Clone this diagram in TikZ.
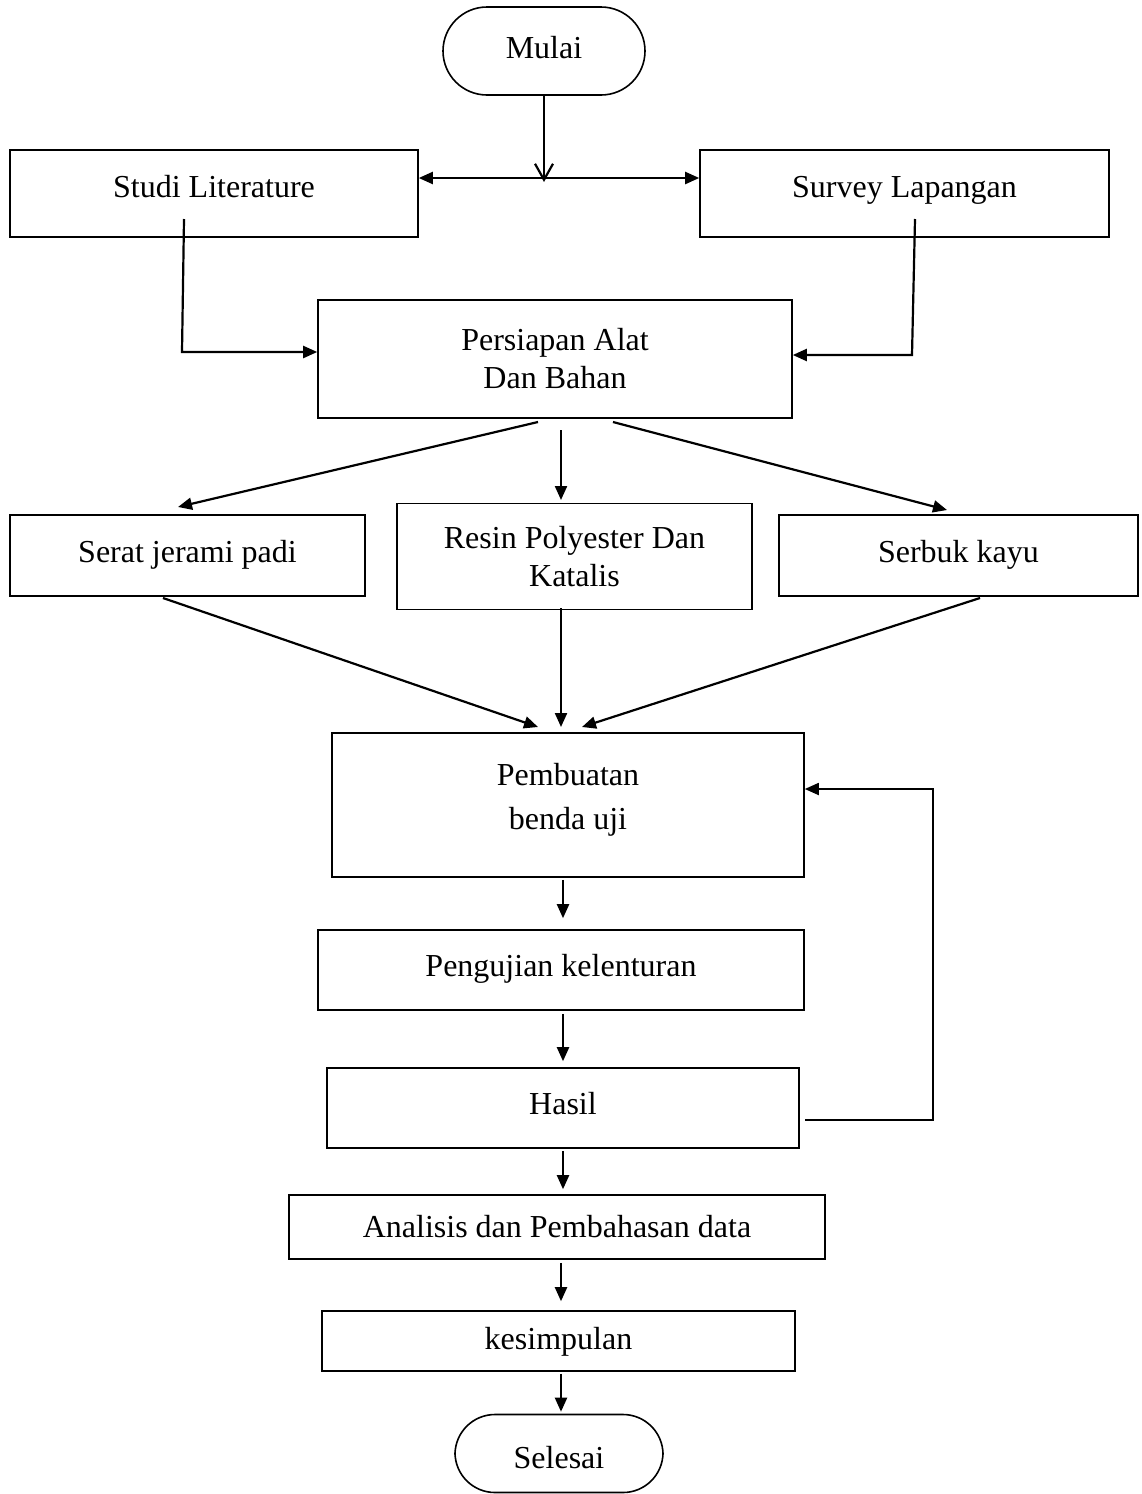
\documentclass[tikz,border=0pt]{standalone}
\usepackage{fontspec}
\setmainfont{Liberation Serif}
\usetikzlibrary{arrows.meta,calc}
\begin{document}
\begin{tikzpicture}[x=0.5pt,y=-0.5pt,
  box/.style={draw, line width=0.8pt, inner sep=0pt, align=center,
    font=\fontsize{16}{19}\selectfont},
  one/.style={text height=0.7em+#1, text depth=0.35em},
  one/.default=0pt,
  term/.style={box, rounded corners=20pt},
  arr/.style={line width=1.1pt, -{Triangle[length=7pt,width=6pt]}},
  line/.style={line width=1.1pt}]
\useasboundingbox (0,0) rectangle (1141,1494);
% nodes
\node[term, one=4pt, minimum width=101pt, minimum height=44pt, rounded corners=22pt] (mulai) at (544,51) {Mulai};
\node[box, one, minimum width=204pt, minimum height=43.5pt] (studi) at (214,193.5) {Studi Literature};
\node[box, one, minimum width=204.5pt, minimum height=43.5pt] (survey) at (904.5,193.5) {Survey Lapangan};
\node[box, minimum width=237pt, minimum height=59pt] (persiapan) at (555,359) {Persiapan Alat\\Dan Bahan};
\node[box, one=3pt, minimum width=177.5pt, minimum height=40.5pt] (serat) at (187.5,555.5) {Serat jerami padi};
\node[box, minimum width=177.5pt, minimum height=53pt] (resin) at (574.5,556.5) {Resin Polyester Dan\\Katalis};
\node[box, one=3pt, minimum width=179.5pt, minimum height=40.5pt] (serbuk) at (958.5,555.5) {Serbuk kayu};
\node[box, minimum width=236pt, minimum height=72pt] (pembuatan) at (568,805) {Pembuatan\\[3pt]benda uji\\[-10pt]\mbox{}};
\node[box, one=3pt, minimum width=243pt, minimum height=40pt] (pengujian) at (561,970) {Pengujian kelenturan};
\node[box, one=3pt, minimum width=236pt, minimum height=40pt] (hasil) at (563,1108) {Hasil};
\node[box, one=7pt, minimum width=268pt, minimum height=32pt] (analisis) at (557,1227) {Analisis dan Pembahasan data};
\node[box, one=5pt, minimum width=236.5pt, minimum height=30pt] (kesimpulan) at (558.5,1341) {kesimpulan};
\node[term, one=11pt, minimum width=104pt, minimum height=39pt] (selesai) at (559,1453.5) {Selesai};
% coordinates
\coordinate (j) at (544,178);
\coordinate (jt) at (544,182);
\coordinate (l1) at (184,219);
\coordinate (l2) at (182,352);
\coordinate (r1) at (915,219);
\coordinate (r2) at (912,355);
\coordinate (p1) at (538,422);
\coordinate (p2) at (561,430);
\coordinate (p3) at (613,422);
\coordinate (s1) at (178,507);
\coordinate (s2) at (561,500);
\coordinate (s3) at (947,510);
\coordinate (q1) at (163,598);
\coordinate (q2) at (561,608);
\coordinate (q3) at (980,598);
\coordinate (t1) at (538,727);
\coordinate (t2) at (561,727);
\coordinate (t3) at (582,727);
\coordinate (f1) at (805,1120);
\coordinate (f2) at (933,1120);
\coordinate (f3) at (933,789);
% connectors
\draw[line width=1.1pt, -{Straight Barb[length=8pt,width=9pt]}] (mulai.south -| jt) -- (jt);
\draw[line width=1.1pt, {Triangle[length=7pt,width=6pt]}-{Triangle[length=7pt,width=6pt]}] (studi.east |- j) -- (survey.west |- j);
\draw[arr] (l1) -- (l2) -- (persiapan.west |- l2);
\draw[arr] (r1) -- (r2) -- (persiapan.east |- r2);
\draw[arr] (p1) -- (s1);
\draw[arr] (p2) -- (s2);
\draw[arr] (p3) -- (s3);
\draw[arr] (q1) -- (t1);
\draw[arr] (q2) -- (t2);
\draw[arr] (q3) -- (t3);
\draw[arr] ([yshift=-1pt]pembuatan.south -| hasil) -- ([yshift=5.5pt]pengujian.north -| hasil);
\draw[arr] ([yshift=-1.5pt]pengujian.south -| hasil) -- ([yshift=3pt]hasil.north);
\draw[arr] ([yshift=-1pt]hasil.south) -- ([yshift=2.5pt]analisis.north -| hasil);
\draw[arr] ([xshift=1pt,yshift=-1.5pt]analisis.south -| selesai) -- ([xshift=1pt,yshift=4.5pt]kesimpulan.north -| selesai);
\draw[arr] ([xshift=1pt,yshift=-1pt]kesimpulan.south -| selesai) -- ([xshift=1pt,yshift=1pt]selesai.north);
\draw[line width=0.9pt, -{Triangle[length=7pt,width=6pt]}] (f1) -- (f2) -- (f3) -- (pembuatan.east |- f3);
\end{tikzpicture}
\end{document}
